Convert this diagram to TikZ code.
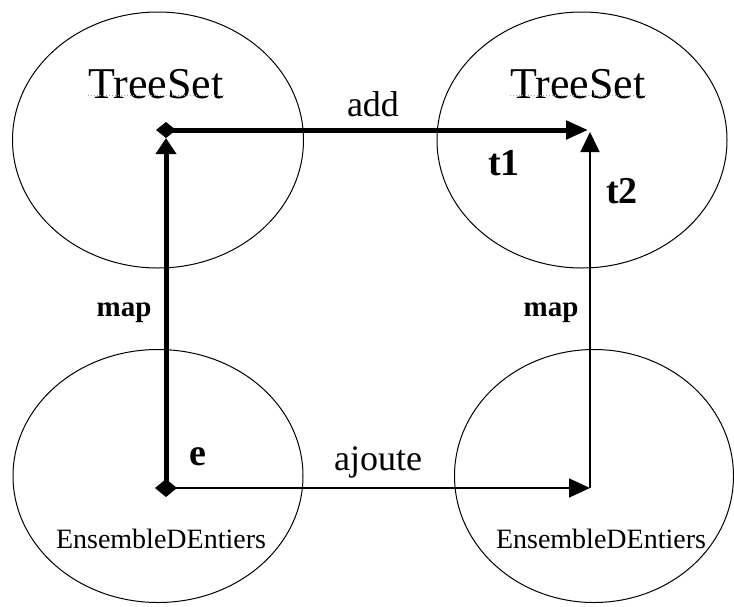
\documentclass[tikz,border=0pt]{standalone}
\usepackage{fontspec}
\setmainfont{Liberation Serif}
\usetikzlibrary{arrows.meta,shapes.geometric}
\begin{document}
\begin{tikzpicture}[x=1pt,y=-1pt,
  setell/.style={draw=black, line width=1pt, ellipse, inner sep=0pt},
  lbl/.style={anchor=base, inner sep=0pt},
  bigtxt/.style={lbl, font=\fontsize{44}{52}\selectfont},
  smalltxt/.style={lbl, font=\fontsize{28}{34}\selectfont},
  optxt/.style={lbl, font=\fontsize{36}{42}\selectfont},
  boldtxt/.style={lbl, font=\fontsize{38}{44}\selectfont\bfseries},
  maptxt/.style={lbl, font=\fontsize{29}{34}\selectfont\bfseries},
  underl/.style={draw=gray!70, line width=1pt, dotted},
  thickarr/.style={line width=5pt, -{Triangle[length=22pt,width=18pt]}},
  thickup/.style={line width=5pt, -{Triangle[length=16pt,width=20pt]}},
  thinarr/.style={line width=1.5pt, -{Triangle[length=21pt,width=19pt]}}
]
\useasboundingbox (0,0) rectangle (734,606);

% sets
\node[setell, minimum width=291pt, minimum height=256pt] (tl) at (158,140) {};
\node[setell, minimum width=290pt, minimum height=256pt] (tr) at (582,140) {};
\node[setell, minimum width=290pt, minimum height=253pt] (bl) at (158,476) {};
\node[setell, minimum width=279pt, minimum height=253pt] (br) at (594,476) {};

% set labels
\node[bigtxt] (tsl) at (156,98) {TreeSet};
\node[bigtxt] (tsr) at (578,98) {TreeSet};
\draw[underl] ([yshift=3pt]tsl.base west) -- ([yshift=3pt]tsl.base east);
\draw[underl] ([yshift=3pt]tsr.base west) -- ([yshift=3pt]tsr.base east);
\node[smalltxt] (edl) at (161,548) {EnsembleDEntiers};
\node[smalltxt] (edr) at (601,548) {EnsembleDEntiers};

% points
\coordinate (da) at (166,130);
\coordinate (das) at (166,138);
\coordinate (dc) at (166,488);
\coordinate (tiph) at (588,130);
\coordinate (tipv) at (590,132);
\coordinate (pd) at (590,488);

% arrows
\draw[thickarr] (da) -- (tiph);
\draw[thickup] (dc) -- (das);
\draw[thinarr] (dc) -- (pd);
\draw[line width=1.5pt, -{Triangle[length=20pt,width=19pt]}] (pd) -- (tipv);

% diamonds
\fill (da) ++(-10,0) -- ++(10,-8) -- ++(10,8) -- ++(-10,8) -- cycle;
\fill (dc) ++(-11,0) -- ++(11,-9) -- ++(11,9) -- ++(-11,9) -- cycle;

% labels
\node[optxt] (add) at (373,116) {add};
\node[optxt] (ajoute) at (378,470) {ajoute};
\node[boldtxt] (t1) at (504,175) {t1};
\node[boldtxt] (t2) at (622,203) {t2};
\node[boldtxt] (e) at (198,465) {e};
\node[maptxt] (mapl) at (124,316) {map};
\node[maptxt] (mapr) at (551,316) {map};
\end{tikzpicture}
\end{document}
